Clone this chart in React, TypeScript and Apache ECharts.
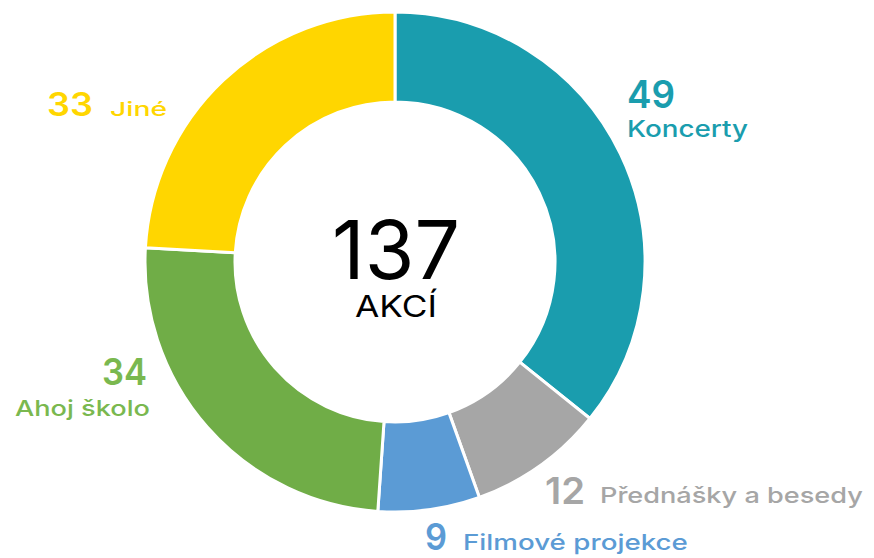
import React, { useEffect, useRef } from "react";
import * as echarts from "echarts";

const categories = ["Koncerty", "Přednášky a besedy", "Filmové projekce", "Ahoj školo", "Jiné"];
const values = [49, 12, 9, 34, 33];
const sliceColors = ["#1a9dae", "#a6a6a6", "#5b9bd5", "#70ad47", "#ffd600"];
const labelColors = ["#1a9dae", "#a6a6a6", "#5b9bd5", "#7ab84f", "#ffd600"];
const totalLabel = "AKCÍ";

const FONT = "Inter";
const CAP = 0.727;

// layout boxes: [left, right, capTop, baseline, weight]
const numBoxes: [number, number, number, number][] = [
  [627, 675, 80, 108],
  [545, 585, 477, 504],
  [425, 447, 523, 550],
  [102, 147, 358, 385],
  [47, 93, 92, 116],
];
const nameBoxes: [number, number, number, number][] = [
  [627, 748, 120, 137],
  [600, 863, 487, 503],
  [463, 688, 534, 550],
  [15, 150, 400, 416],
  [110, 167, 102, 116],
];

const ctx = document.createElement("canvas").getContext("2d")!;
function measure(text: string, font: string) {
  ctx.font = font;
  return ctx.measureText(text).width;
}

function fitText(text: string, box: [number, number, number, number], weight: number, color: string) {
  const [l, r, top, base] = box;
  const fs = Math.round(((base - top) / CAP) * 10) / 10;
  const font = `${weight} ${fs}px ${FONT}`;
  const w = measure(text, font);
  return {
    type: "text",
    x: l,
    y: (top + base) / 2,
    scaleX: (r - l) / w,
    style: { text, fill: color, font, align: "left", verticalAlign: "middle" },
  };
}

export default function App() {
  const ref = useRef<HTMLDivElement>(null);
  useEffect(() => {
    document.body.style.margin = "0";
    const chart = echarts.init(ref.current!, null, { renderer: "svg" });
    const total = values.reduce((a, b) => a + b, 0);
    const labels: any[] = [];
    categories.forEach((c, i) => {
      labels.push(fitText(String(values[i]), numBoxes[i], 600, labelColors[i]));
      labels.push(fitText(c, nameBoxes[i], 500, labelColors[i]));
    });
    chart.setOption({
      animation: false,
      series: [
        {
          type: "pie",
          center: [395, 262],
          radius: [160, 250],
          startAngle: 90,
          clockwise: true,
          label: { show: false },
          labelLine: { show: false },
          emphasis: { disabled: true },
          itemStyle: { borderColor: "#ffffff", borderWidth: 3 },
          data: categories.map((c, i) => ({ name: c, value: values[i], itemStyle: { color: sliceColors[i] } })),
        },
      ],
      graphic: [
        fitText(String(total), [332, 460, 220, 279], 400, "#000000"),
        fitText(totalLabel, [355, 437, 295, 317], 400, "#000000"),
        ...labels,
      ],
    });
    return () => chart.dispose();
  }, []);
  return <div ref={ref} style={{ width: 874, height: 558 }} />;
}
